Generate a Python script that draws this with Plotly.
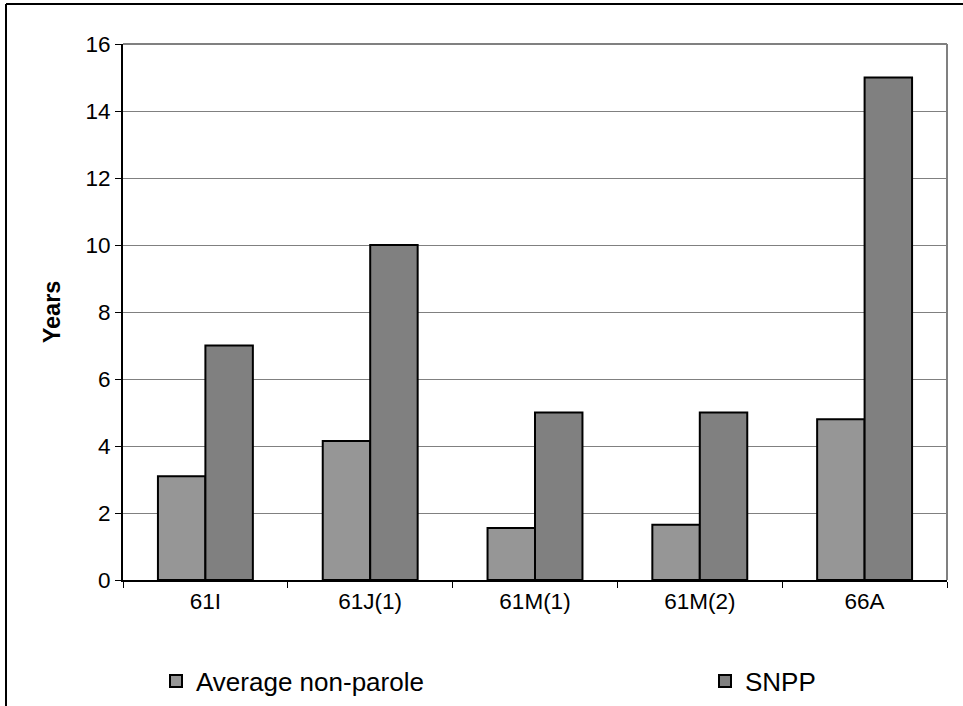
import plotly.graph_objects as go

categories = ["61I", "61J(1)", "61M(1)", "61M(2)", "66A"]
avg_non_parole = [3.1, 4.15, 1.55, 1.65, 4.8]
snpp = [7, 10, 5, 5, 15]
y_ticks = [0, 2, 4, 6, 8, 10, 12, 14, 16]

FONT = "Arial, 'Liberation Sans', sans-serif"

fig = go.Figure()
fig.add_trace(go.Bar(
    name="Average non-parole", x=categories, y=avg_non_parole,
    marker=dict(color="#969696", line=dict(color="black", width=2)),
    legend="legend",
))
fig.add_trace(go.Bar(
    name="SNPP", x=categories, y=snpp,
    marker=dict(color="#808080", line=dict(color="black", width=2)),
    legend="legend2",
))

W, H = 963, 706
L, R, T, B = 123, 16, 44, 126
pw, ph = W - L - R, H - T - B

def px_x(p):
    return (p - L) / pw

def px_y(p):
    return (H - B - p) / ph

shapes = [
    # plot area border (top & right), gray
    dict(type="line", xref="paper", yref="paper", x0=0, x1=1, y0=1, y1=1,
         line=dict(color="#808080", width=2)),
    dict(type="line", xref="paper", yref="paper", x0=1, x1=1, y0=0, y1=1,
         line=dict(color="#808080", width=2)),
    # chart outer border (top & left), black
    dict(type="line", xref="paper", yref="paper", x0=px_x(6), x1=px_x(W + 5),
         y0=px_y(4), y1=px_y(4), line=dict(color="black", width=2)),
    dict(type="line", xref="paper", yref="paper", x0=px_x(6), x1=px_x(6),
         y0=px_y(4), y1=px_y(H + 5), line=dict(color="black", width=2)),
]

legend_common = dict(
    orientation="h", yanchor="middle", y=px_y(681), xanchor="left",
    font=dict(size=26), bgcolor="rgba(0,0,0,0)",
)

fig.update_layout(
    width=W, height=H,
    margin=dict(l=L, r=R, t=T, b=B, autoexpand=False),
    paper_bgcolor="white", plot_bgcolor="white",
    font=dict(family=FONT, size=22, color="black"),
    barmode="group", bargap=0.424, bargroupgap=0,
    showlegend=True,
    legend=dict(x=px_x(156), **legend_common),
    legend2=dict(x=px_x(705), **legend_common),
    shapes=shapes,
)
fig.update_xaxes(
    type="category", showline=True, linecolor="black", linewidth=2,
    ticks="outside", tickson="boundaries", ticklen=6, tickcolor="black", tickwidth=1,
    showgrid=False, tickfont=dict(size=22.5), automargin=False,
)
fig.update_yaxes(
    range=[0, 16], tickvals=y_ticks, showline=True, linecolor="black", linewidth=2,
    ticks="outside", ticklen=6, tickcolor="black", tickwidth=1,
    showgrid=True, gridcolor="#808080", gridwidth=1, zeroline=False,
    tickfont=dict(size=22.5), automargin=False,
    title=dict(text="<b>Years</b>", font=dict(size=23.5), standoff=18),
)

fig.write_html(
    "out.html",
    config={"displayModeBar": False},
    post_script="document.body.style.margin='0';document.body.style.overflow='hidden';",
)
